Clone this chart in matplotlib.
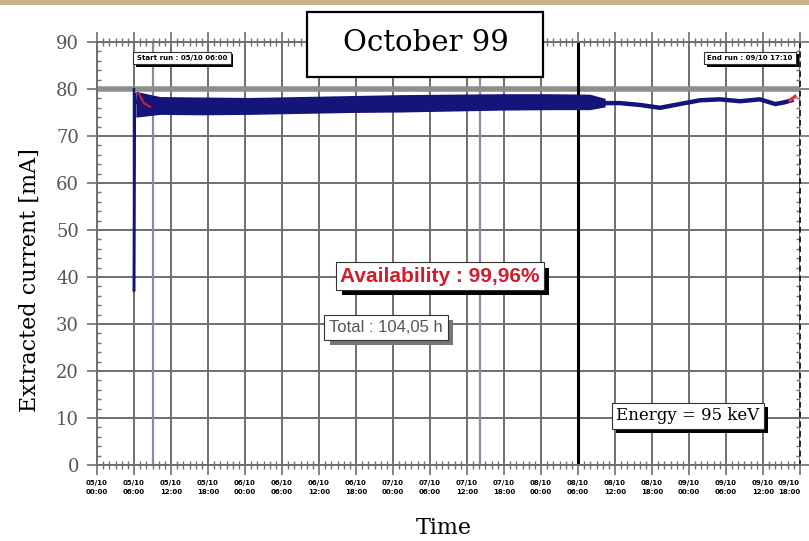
import matplotlib.pyplot as plt
from matplotlib.patches import Rectangle
from matplotlib.ticker import MultipleLocator
import matplotlib.patheffects as pe

# hours since 05/10 00:00
tick_hours = list(range(0, 115, 6))
tick_labels = ["05/10\n00:00", "05/10\n06:00", "05/10\n12:00", "05/10\n18:00",
               "06/10\n00:00", "06/10\n06:00", "06/10\n12:00", "06/10\n18:00",
               "07/10\n00:00", "07/10\n06:00", "07/10\n12:00", "07/10\n18:00",
               "08/10\n00:00", "08/10\n06:00", "08/10\n12:00", "08/10\n18:00",
               "09/10\n00:00", "09/10\n06:00", "09/10\n12:00", "09/10\n18:00"]

# noisy part of the run: envelope of the current [mA]
t_band = [6.3, 10.2, 16.7, 24.8, 32.9, 41.0, 49.1, 57.2, 65.4, 73.5, 79.9, 82.4]
band_lo = [74.0, 74.6, 74.5, 74.6, 74.8, 75.0, 75.1, 75.3, 75.5, 75.6, 75.6, 76.2]
band_hi = [79.5, 78.4, 78.3, 78.2, 78.4, 78.6, 78.8, 78.9, 79.0, 79.0, 78.9, 78.0]

# quieter end of the run
t_tail = [82.4, 84.8, 88.1, 91.3, 94.5, 97.8, 101.0, 104.3, 107.5, 110.0, 111.6, 112.6]
i_tail = [77.0, 77.0, 76.6, 76.0, 76.8, 77.6, 77.8, 77.4, 77.8, 76.8, 77.2, 77.6]

# start of the run (beam trip)
t_start = [6.0, 6.0, 6.1, 6.3]
i_start = [80.0, 37.0, 79.0, 77.0]

# red segments (start / end)
t_red1 = [6.8, 7.6, 8.6]
i_red1 = [79.0, 77.0, 76.2]
t_red2 = [112.4, 113.2]
i_red2 = [77.6, 78.4]

event_lines = [9.1, 62.1]
marker_line = 78.0
nominal = 80.0

W, H = 809, 541
fig = plt.figure(figsize=(W / 100, H / 100), dpi=100)
ax = fig.add_axes([97 / W, 1 - 465 / H, (800 - 97) / W, (465 - 42) / H])

navy = "#14147a"
grid_c = "#6f6f6f"

ax.set_xlim(0, 114)
ax.set_ylim(0, 90)
ax.set_xticks(tick_hours)
ax.set_xticklabels(tick_labels, fontsize=5, fontweight="bold", linespacing=1.6)
ax.get_xticklabels()[-1].set_horizontalalignment("right")
ax.set_yticks(range(0, 91, 10))
ax.set_yticklabels([str(v) for v in range(0, 91, 10)], fontsize=13,
                   family="DejaVu Serif", color="#555555")
ax.xaxis.set_minor_locator(MultipleLocator(1))
ax.yaxis.set_minor_locator(MultipleLocator(2))
ax.grid(True, which="major", color=grid_c, lw=1.4)
ax.set_axisbelow(True)
ax.tick_params(which="major", direction="out", length=7, width=1.2, color=grid_c,
               top=True, right=True)
ax.tick_params(which="minor", direction="in", length=3, width=1, color=grid_c,
               top=True, right=True)
ax.tick_params(axis="x", which="minor", direction="inout", length=6)
ax.tick_params(axis="y", which="major", pad=6)
ax.tick_params(axis="x", which="major", pad=4)
for s in ax.spines.values():
    s.set_color(grid_c)
    s.set_linewidth(1.4)
ax.spines["right"].set_color("#222222")
ax.spines["right"].set_linestyle((0, (2, 3)))

ax.axhline(nominal, color="#8e8e8e", lw=4, zorder=1.5)
for ev in event_lines:
    ax.axvline(ev, color="#8a8aa0", lw=1.6, zorder=1.5)
ax.axvline(marker_line, color="black", lw=2.2, zorder=1.6)

ax.fill_between(t_band, band_lo, band_hi, color=navy, lw=0, zorder=3)
ax.plot(t_tail, i_tail, color=navy, lw=3.2, zorder=3)
ax.plot(t_start, i_start, color=navy, lw=1.8, zorder=3)
ax.plot(t_red1, i_red1, color="#c8203a", lw=1.6, zorder=4)
ax.plot(t_red2, i_red2, color="#d83a4a", lw=2.5, zorder=4)

fig.text(30 / W, 1 - 280 / H, "Extracted current [mA]", rotation=90,
         ha="center", va="center", fontsize=16, family="DejaVu Serif")
fig.text(444 / W, 1 - 528 / H, "Time", ha="center", va="center",
         fontsize=16, family="DejaVu Serif")

# tan band along the top of the picture
fig.patches.append(Rectangle((0, 1 - 5 / H), 1, 5 / H, transform=fig.transFigure,
                             facecolor="#c8b48c", edgecolor="none"))

# title box
fig.patches.append(Rectangle((307 / W, 1 - 77 / H), 236 / W, 65 / H,
                             transform=fig.transFigure, facecolor="white",
                             edgecolor="black", lw=1.6, zorder=5))
fig.text(426 / W, 1 - 43 / H, "October 99", ha="center", va="center",
         fontsize=21, family="DejaVu Serif", zorder=6)


def boxed(x, y, s, shadow="black", dx=4, pad=0.25, color="black", **kw):
    t = fig.text(x / W, 1 - y / H, s, ha="center", va="center", color=color,
                 bbox=dict(boxstyle=f"square,pad={pad}", fc="white", ec="#333333", lw=0.8),
                 zorder=8, **kw)
    t.get_bbox_patch().set_path_effects([
        pe.withSimplePatchShadow(offset=(dx, -dx), shadow_rgbFace=shadow, alpha=1)])
    return t


boxed(440, 276, "Availability : 99,96%", fontsize=15, fontweight="bold",
      family="Liberation Sans", pad=0.2, color="#d01c2c")
boxed(386, 327, "Total : 104,05 h", shadow="#777777", fontsize=12,
      family="Liberation Sans", pad=0.3, color="#555555")
boxed(688, 416, "Energy = 95 keV", fontsize=12, family="DejaVu Serif", pad=0.25, dx=3)
boxed(182, 58, "Start run : 05/10 06:00", fontsize=5, fontweight="bold", pad=0.5, dx=2)
boxed(750, 58, "End run : 09/10 17:10", fontsize=5, fontweight="bold", pad=0.5, dx=2)

fig.savefig("out.png", dpi=100, facecolor="white")
